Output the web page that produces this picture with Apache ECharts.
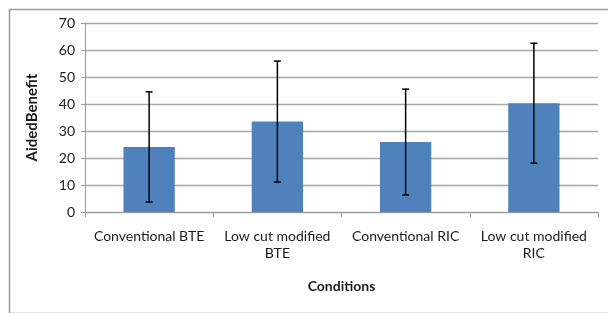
<!DOCTYPE html>
<html>
<head>
<meta charset="utf-8">
<script src="https://cdn.jsdelivr.net/npm/echarts@6/dist/echarts.min.js"></script>
<style>
html, body { margin: 0; padding: 0; background: #fff; }
#chart { width: 608px; height: 313px; }
</style>
</head>
<body>
<div id="chart"></div>
<script>
var categories = ['Conventional BTE', 'Low cut modified\nBTE', 'Conventional RIC', 'Low cut modified\nRIC'];
var means = [24.1, 33.5, 25.9, 40.3];
var errors = [20.4, 22.4, 19.6, 22.2];
var yTicks = [0, 10, 20, 30, 40, 50, 60, 70];

var font = 'Lato, "Open Sans", sans-serif';

// error bar rows: [index, low, high]
var errData = means.map(function(m, i){
	return [i, m - errors[i], m + errors[i]];
});

var chart = echarts.init(document.getElementById('chart'));
chart.setOption({
	animation: false,
	graphic: [{
		type: 'rect',
		left: 7, top: 7,
		shape: { width: 640, height: 304 },
		style: { fill: 'none', stroke: '#9a9a9a', lineWidth: 1.5 },
		silent: true
	}],
	grid: { left: 85, right: 10, top: 23, bottom: 101 },
	xAxis: {
		type: 'category',
		data: categories,
		name: 'Conditions',
		nameLocation: 'middle',
		nameGap: 67,
		nameTextStyle: { fontFamily: font, fontWeight: 'bold', fontSize: 14, color: '#1a1a1a' },
		axisLine: { lineStyle: { color: '#9a9a9a', width: 1 } },
		axisTick: { show: true, length: 5, lineStyle: { color: '#9a9a9a' } },
		axisLabel: { fontFamily: font, fontSize: 14, color: '#1a1a1a', margin: 16, lineHeight: 17, interval: 0 }
	},
	yAxis: {
		type: 'value',
		min: yTicks[0],
		max: yTicks[yTicks.length - 1],
		interval: 10,
		name: 'AidedBenefit',
		nameLocation: 'middle',
		nameGap: 45,
		nameTextStyle: { fontFamily: font, fontWeight: 'bold', fontSize: 15, color: '#1a1a1a' },
		axisLine: { show: true, lineStyle: { color: '#9a9a9a', width: 1 } },
		axisTick: { show: true, length: 4, lineStyle: { color: '#9a9a9a' } },
		axisLabel: { fontFamily: font, fontSize: 14, color: '#1a1a1a', margin: 10 },
		splitLine: { lineStyle: { color: '#a8a8a8', width: 1.3 } }
	},
	series: [{
		type: 'bar',
		data: means,
		barWidth: '40%',
		itemStyle: { color: '#4f81bd' }
	}, {
		type: 'custom',
		data: errData,
		z: 10,
		renderItem: function(params, api){
			var x = api.value(0);
			var lo = api.coord([x, api.value(1)]);
			var hi = api.coord([x, api.value(2)]);
			var w = 3.5;
			var st = { stroke: '#000', lineWidth: 1.5 };
			return {
				type: 'group',
				children: [
					{ type: 'line', shape: { x1: hi[0], y1: hi[1], x2: lo[0], y2: lo[1] }, style: st },
					{ type: 'line', shape: { x1: hi[0] - w, y1: hi[1], x2: hi[0] + w, y2: hi[1] }, style: st },
					{ type: 'line', shape: { x1: lo[0] - w, y1: lo[1], x2: lo[0] + w, y2: lo[1] }, style: st }
				]
			};
		}
	}]
});
</script>
</body>
</html>
